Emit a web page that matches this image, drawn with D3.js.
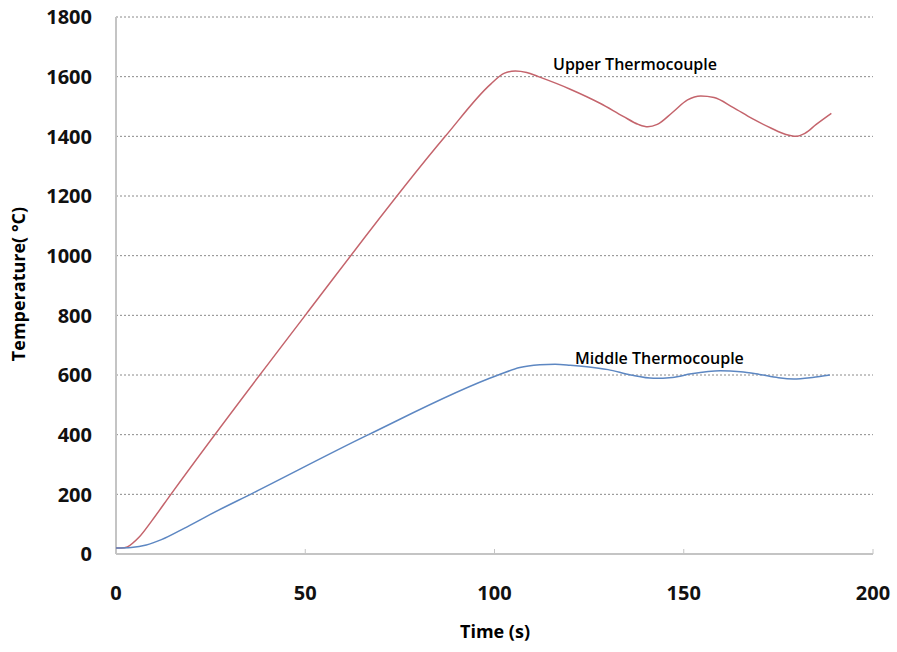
<!DOCTYPE html>
<meta charset="utf-8">
<style>
body { margin: 0; background: #fff; }
text { font-family: "Open Sans", sans-serif; }
.grid line { stroke: #8a8a8a; stroke-width: 1; stroke-dasharray: 2,2; }
.axisline { stroke: #c4c4c4; stroke-width: 2; fill: none; }
.ticklab { font-size: 20px; font-weight: 700; fill: #111; }
.series { fill: none; stroke-width: 1.5; stroke-linejoin: round; }
</style>
<body>
<div id="chart"></div>
<script src="https://cdn.jsdelivr.net/npm/d3@7"></script>
<script>
// data: time (s) and temperature (C)
var upperTime = [0, 1.5, 3, 6, 9.5, 14.5, 50, 87, 99, 102.5, 105.5, 108.5, 111.6, 120, 128, 134, 138, 140.5, 143, 147, 151, 154.5, 158, 163, 168, 173, 177, 179.5, 182, 185, 189];
var upperTemp = [20, 20, 24, 55, 112, 200, 800, 1400, 1575, 1611, 1619, 1614, 1600, 1558, 1510, 1467, 1440, 1432, 1440, 1480, 1522, 1535, 1530, 1497, 1460, 1428, 1406, 1400, 1410, 1440, 1477];

var middleTime = [0, 4, 8, 12, 18, 24.8, 36.3, 66.7, 101, 106.7, 112, 116, 120, 124.4, 130, 136, 142, 147, 152, 159.6, 165, 170, 175, 179, 184, 188.6];
var middleTemp = [20, 22, 30, 48, 86, 132, 205, 400, 600, 625, 634, 636, 633, 628, 618, 600, 589, 592, 604, 614, 611, 602, 591, 587, 592, 600];

var xTicks = [0, 50, 100, 150, 200];
var yTicks = [0, 200, 400, 600, 800, 1000, 1200, 1400, 1600, 1800];

var W = 897, H = 652;
var x = d3.scaleLinear().domain([0, 200]).range([116, 873]);
var y = d3.scaleLinear().domain([0, 1800]).range([554, 17]);

var svg = d3.select("#chart").append("svg")
    .attr("width", W).attr("height", H);

// dashed gridlines
svg.append("g").attr("class", "grid")
  .selectAll("line")
  .data(yTicks.filter(function(d) { return d > 0; }))
  .enter().append("line")
    .attr("x1", x(0)).attr("x2", x(200))
    .attr("y1", function(d) { return y(d); })
    .attr("y2", function(d) { return y(d); });

// axes lines
svg.append("line").attr("class", "axisline")
  .attr("x1", x(0)).attr("x2", x(0)).attr("y1", y(1800)).attr("y2", y(0));
svg.append("line").attr("class", "axisline")
  .attr("x1", x(0)).attr("x2", x(200)).attr("y1", y(0)).attr("y2", y(0));
svg.append("g").selectAll("line")
  .data(xTicks.slice(1))
  .enter().append("line")
    .attr("class", "axisline").style("stroke-width", 1)
    .attr("x1", function(d) { return x(d); }).attr("x2", function(d) { return x(d); })
    .attr("y1", y(0) - 5).attr("y2", y(0));

// tick labels
svg.append("g").selectAll("text")
  .data(yTicks)
  .enter().append("text")
    .attr("class", "ticklab")
    .attr("x", 92)
    .attr("y", function(d) { return y(d); })
    .attr("dy", "0.36em")
    .attr("text-anchor", "end")
    .text(function(d) { return d; });

svg.append("g").selectAll("text")
  .data(xTicks)
  .enter().append("text")
    .attr("class", "ticklab")
    .attr("x", function(d) { return x(d); })
    .attr("y", 593)
    .attr("dy", "0.36em")
    .attr("text-anchor", "middle")
    .text(function(d) { return d; });

// axis titles
svg.append("text")
  .attr("x", 495).attr("y", 632).attr("dy", "0.36em")
  .attr("text-anchor", "middle")
  .style("font-size", "18px").style("font-weight", 700)
  .text("Time (s)");

svg.append("text")
  .attr("transform", "translate(19,284) rotate(-90)")
  .attr("dy", "0.36em")
  .attr("text-anchor", "middle")
  .style("font-size", "18px").style("font-weight", 700)
  .text("Temperature( \u00b0C)");

// lines
var line = d3.line()
  .x(function(d) { return x(d[0]); })
  .y(function(d) { return y(d[1]); })
  .curve(d3.curveMonotoneX);

svg.append("path").attr("class", "series")
  .datum(d3.zip(upperTime, upperTemp))
  .attr("stroke", "#c4646c")
  .attr("d", line);

svg.append("path").attr("class", "series")
  .datum(d3.zip(middleTime, middleTemp))
  .attr("stroke", "#5d87c2")
  .attr("d", line);

// series labels
svg.append("text")
  .attr("x", 553).attr("y", 64).attr("dy", "0.36em")
  .style("font-size", "16px").style("font-weight", 600)
  .text("Upper Thermocouple");

svg.append("text")
  .attr("x", 575).attr("y", 358).attr("dy", "0.36em")
  .style("font-size", "16px").style("font-weight", 600)
  .text("Middle Thermocouple");
</script>
</body>
